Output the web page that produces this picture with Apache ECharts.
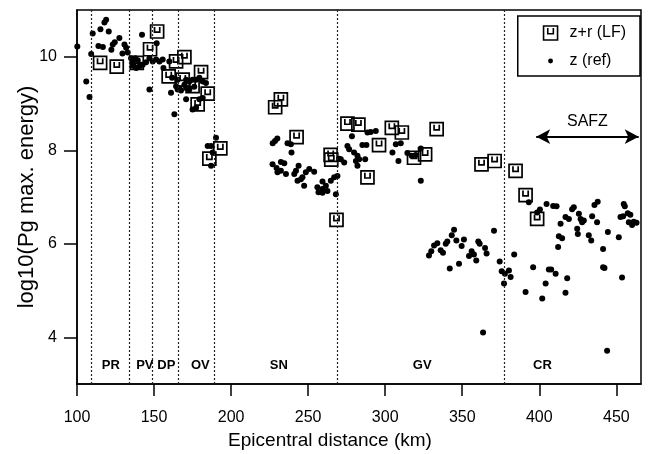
<!DOCTYPE html>
<html><head><meta charset="utf-8">
<script src="https://cdn.jsdelivr.net/npm/echarts@6/dist/echarts.min.js"></script>
<style>html,body{margin:0;padding:0;background:#fff}#c{width:650px;height:454px}</style>
</head><body><div id="c"></div>
<script>
// ---- data ----
const xTicks = [100, 150, 200, 250, 300, 350, 400, 450];
const yTicks = [4, 6, 8, 10];
const boundaries = [109, 134, 149, 166, 189, 269, 377];
const regionNames = ['PR', 'PV', 'DP', 'OV', 'SN', 'GV', 'CR'];
const regionX = [122, 144, 158, 180, 231, 324, 402];
const regionY = 3.4;
const safzRange = [398, 464.5];
const safzY = 8.29;

const zrLF = [
  [115.0, 9.87], [125.8, 9.79], [138.8, 9.87], [147.4, 10.16], [152.0, 10.54],
  [159.5, 9.58], [164.3, 9.90], [168.6, 9.51], [169.7, 9.99], [175.0, 9.37],
  [178.3, 8.98], [180.5, 9.67], [184.8, 9.21], [185.9, 7.82], [193.0, 8.04],
  [228.6, 8.92], [232.3, 9.09], [242.5, 8.28], [264.6, 7.90], [265.0, 7.80],
  [268.4, 6.51], [275.5, 8.57], [282.6, 8.55], [288.5, 7.42], [296.0, 8.11],
  [304.3, 8.48], [310.8, 8.38], [318.7, 7.84], [325.9, 7.91], [333.4, 8.45],
  [362.5, 7.70], [371.0, 7.77], [384.6, 7.56], [391.1, 7.04], [398.6, 6.53]
];

const zRef = [
  // PR
  [100.2, 10.22], [106.0, 9.47], [108.1, 9.14], [109.2, 10.06], [110.2, 10.50],
  [113.9, 10.23], [116.8, 10.21], [115.2, 10.59], [117.8, 10.73], [118.9, 10.79],
  [120.6, 10.54], [122.3, 10.15], [123.2, 10.26], [124.5, 10.31], [127.5, 10.40],
  [129.5, 10.07], [130.8, 10.26], [131.9, 10.19], [132.9, 10.09],
  // PV
  [135.1, 9.97], [136.2, 9.87], [136.8, 9.80], [137.9, 9.97], [138.4, 9.76],
  [139.4, 9.92], [140.5, 9.79], [141.6, 9.83], [142.2, 10.47], [142.6, 9.83],
  [144.8, 9.88], [147.0, 9.97], [147.0, 9.30],
  // DP
  [149.1, 9.90], [151.3, 9.94], [151.7, 10.29], [153.5, 9.90], [155.6, 9.94],
  [156.1, 9.76], [159.9, 9.90], [161.0, 9.23], [161.7, 9.55], [163.2, 8.77],
  [164.3, 9.37], [165.3, 9.51], [165.3, 9.30],
  // OV
  [166.4, 9.33], [167.5, 9.28], [169.7, 9.40], [170.8, 9.51], [170.8, 9.33],
  [170.8, 9.09], [172.9, 9.47], [172.9, 9.30], [175.0, 9.51], [175.0, 8.87],
  [176.1, 9.36], [177.3, 9.51], [177.3, 8.91], [179.4, 9.55], [179.4, 9.09],
  [181.6, 9.47], [181.6, 9.12], [183.7, 9.44], [184.8, 8.09], [187.0, 8.09],
  [187.0, 7.67], [188.0, 7.95], [190.2, 8.27],
  // SN
  [227.0, 8.15], [228.5, 8.20], [230.0, 8.25], [236.6, 8.15], [238.8, 8.13],
  [239.2, 7.95], [226.9, 7.70], [229.5, 7.62], [232.3, 7.75], [234.5, 7.72],
  [230.1, 7.53], [232.3, 7.56], [235.6, 7.49], [241.0, 7.49], [242.1, 7.56],
  [243.8, 7.67], [248.5, 7.53], [250.7, 7.60], [253.9, 7.54], [246.3, 7.42],
  [243.1, 7.35], [247.4, 7.24], [256.0, 7.21], [259.3, 7.17], [262.5, 7.13],
  [261.5, 7.24], [264.7, 7.35], [266.9, 7.42], [269.0, 7.45], [256.7, 7.10],
  [259.3, 7.09], [268.0, 7.06], [245.3, 7.38], [259.3, 7.33],
  // GV upper
  [270.1, 7.82], [271.2, 7.81], [273.4, 7.74], [275.5, 8.09], [276.6, 8.02],
  [278.4, 8.30], [279.8, 7.95], [282.0, 7.88], [281.0, 7.77], [283.1, 7.81],
  [287.0, 7.81], [282.0, 7.67], [285.2, 8.11], [287.8, 8.11], [288.5, 8.38],
  [290.6, 8.39], [293.9, 8.41], [304.7, 7.95], [308.6, 7.77], [306.9, 8.13],
  [310.1, 8.15], [314.4, 7.94], [317.2, 7.88], [319.8, 7.90], [323.1, 8.04],
  [323.1, 7.35],
  // GV lower
  [328.4, 5.75], [329.9, 5.84], [331.7, 5.96], [333.8, 6.01], [336.0, 5.86],
  [337.5, 5.81], [339.3, 6.00], [340.3, 6.05], [343.2, 6.18], [344.7, 6.30],
  [346.2, 6.07], [341.9, 5.47], [347.9, 5.57], [349.6, 5.95], [351.1, 6.09],
  [354.4, 5.74], [356.1, 5.84], [357.6, 5.77], [359.1, 5.64], [360.4, 6.05],
  [361.3, 6.00], [364.8, 5.91], [365.8, 5.79], [363.5, 4.10], [370.6, 6.28],
  [374.3, 5.62], [375.6, 5.41], [377.7, 5.36], [377.1, 5.15], [380.3, 5.43],
  [381.4, 5.29], [383.7, 5.77],
  // CR
  [396.0, 5.50], [406.2, 5.45], [407.7, 5.45], [410.6, 5.36], [404.1, 5.15],
  [391.1, 4.97], [401.9, 4.83], [417.0, 4.95], [418.1, 5.26], [441.4, 5.50],
  [442.3, 5.48], [453.7, 5.28], [444.0, 3.71],
  [393.2, 6.89], [398.6, 6.67], [400.4, 6.73], [404.7, 6.85], [409.0, 6.81],
  [411.2, 6.80], [413.8, 6.43], [417.0, 6.57], [419.2, 6.53], [421.3, 6.74],
  [422.4, 6.78], [425.7, 6.64], [426.8, 6.53], [427.8, 6.46], [428.9, 6.50],
  [424.6, 6.32], [425.0, 6.21], [434.3, 6.59], [437.5, 6.46], [435.8, 6.83],
  [437.9, 6.90], [412.7, 6.16], [414.8, 6.12], [412.2, 5.93], [432.1, 6.18],
  [433.7, 6.07], [444.5, 6.25], [451.6, 6.14], [441.4, 5.89], [454.8, 6.85],
  [455.5, 6.80], [457.4, 6.65], [459.1, 6.62], [452.7, 6.57], [454.4, 6.59],
  [458.1, 6.46], [461.3, 6.47], [463.1, 6.45], [460.2, 6.40]
];

// ---- chart ----
const FONT = 'Liberation Sans, Arial, sans-serif';
const squarePath = 'path://M0,0H20V20H0Z M6,3V11H14V3';
const dotIcon = 'path://M0,0M20,20M6.5,10a3.5,3.5 0 1,0 7,0a3.5,3.5 0 1,0 -7,0Z';

const chart = echarts.init(document.getElementById('c'), null, {renderer: 'canvas'});
chart.setOption({
  animation: false,
  backgroundColor: '#fff',
  grid: {left: 77, right: 9, top: 10, bottom: 70, show: true, borderColor: '#000', borderWidth: 1.5, outerBoundsMode: 'none'},
  legend: {
    right: 10, top: 16, orient: 'vertical',
    borderColor: '#000', borderWidth: 1.5, borderRadius: 0,
    padding: [9, 14, 7, 25], itemGap: 12, itemWidth: 14, itemHeight: 14,
    textStyle: {fontFamily: FONT, fontSize: 16, color: '#000', padding: [0, 0, 0, 7]},
    data: [
      {name: 'z+r (LF)', icon: squarePath, itemStyle: {color: 'rgba(0,0,0,0)', borderColor: '#000', borderWidth: 1.6}},
      {name: 'z (ref)', icon: dotIcon, itemStyle: {color: '#000', borderWidth: 0}}
    ]
  },
  xAxis: {
    type: 'value', min: 100, max: 466,
    name: 'Epicentral distance (km)', nameLocation: 'middle', nameGap: 46,
    nameTextStyle: {fontFamily: FONT, fontSize: 19, color: '#000', padding: [0, 58, 0, 0]},
    axisLine: {show: true, onZero: false, lineStyle: {color: '#000', width: 1.5}},
    axisTick: {show: true, length: 12, customValues: xTicks, lineStyle: {color: '#000', width: 1.5}},
    axisLabel: {customValues: xTicks, fontFamily: FONT, fontSize: 16, color: '#000', margin: 26},
    splitLine: {show: false}
  },
  yAxis: {
    type: 'value', min: 3, max: 11,
    name: 'log10(Pg max. energy)', nameLocation: 'middle', nameGap: 39, nameRotate: 90,
    nameMoveOverlap: false,
    nameTextStyle: {fontFamily: FONT, fontSize: 22, color: '#000'},
    axisLine: {show: true, onZero: false, lineStyle: {color: '#000', width: 1.5}},
    axisTick: {show: true, length: 13, customValues: yTicks, lineStyle: {color: '#000', width: 1.5}},
    axisLabel: {customValues: yTicks, fontFamily: FONT, fontSize: 16, color: '#000', margin: 20},
    splitLine: {show: false}
  },
  series: [
    {
      name: 'z (ref)', type: 'scatter', data: zRef, symbol: 'circle', symbolSize: 6,
      itemStyle: {color: '#000', opacity: 1}, z: 3,
      markLine: {
        silent: true, symbol: 'none', animation: false,
        label: {show: false},
        lineStyle: {type: [2, 2], color: '#222', width: 1.2},
        data: boundaries.map(v => ({xAxis: v}))
      }
    },
    {
      name: 'z+r (LF)', type: 'scatter', data: zrLF, symbol: squarePath, symbolSize: 13,
      itemStyle: {color: 'rgba(0,0,0,0)', borderColor: '#000', borderWidth: 1.7, opacity: 1}, z: 4,
      markLine: {
        silent: true, animation: false,
        symbol: ['arrow', 'arrow'], symbolSize: [11, 14],
        lineStyle: {type: 'solid', color: '#000', width: 2},
        label: {show: true, position: 'middle', formatter: 'SAFZ', distance: 7,
                fontFamily: FONT, fontSize: 16, color: '#000'},
        data: [[{coord: [safzRange[0], safzY]}, {coord: [safzRange[1], safzY]}]]
      }
    },
    {
      name: 'regions', type: 'scatter', symbolSize: 0, silent: true,
      data: regionNames.map((n, i) => [regionX[i], regionY, n]),
      itemStyle: {opacity: 1},
      label: {show: true, position: 'inside', formatter: p => p.value[2],
              fontFamily: FONT, fontSize: 13, fontWeight: 'bold', color: '#000'}
    }
  ]
});
</script>
</body></html>
